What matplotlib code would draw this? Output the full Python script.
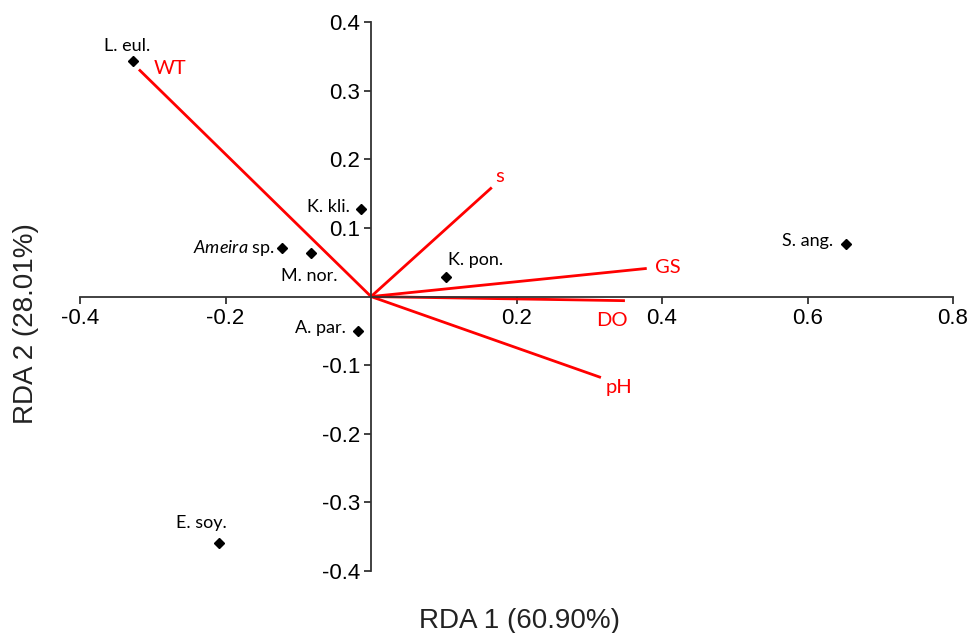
import matplotlib.pyplot as plt

plt.rcParams["mathtext.fontset"] = "custom"
plt.rcParams["mathtext.it"] = "Lato:italic"
plt.rcParams["mathtext.rm"] = "Lato"

# species scores (RDA1, RDA2)
species = ["L. eul.", "K. kli.", "Ameira sp.", "M. nor.", "K. pon.", "S. ang.", "A. par.", "E. soy."]
sp_x = [-0.327, -0.014, -0.123, -0.083, 0.103, 0.653, -0.018, -0.209]
sp_y = [0.343, 0.127, 0.071, 0.064, 0.029, 0.077, -0.050, -0.359]

# environmental vectors
env = ["WT", "s", "GS", "DO", "pH"]
env_x = [-0.319, 0.166, 0.379, 0.349, 0.316]
env_y = [0.331, 0.159, 0.041, -0.006, -0.118]

xticks = [-0.4, -0.2, 0.2, 0.4, 0.6, 0.8]
yticks = [-0.4, -0.3, -0.2, -0.1, 0.1, 0.2, 0.3, 0.4]

# label offsets in points and alignment
sp_off = {"L. eul.": (-4, 11, "center"), "K. kli.": (-8, 2, "right"),
          "Ameira sp.": (-5, 0, "right"), "M. nor.": (-1, -17, "center"),
          "K. pon.": (21, 12, "center"), "S. ang.": (-9, 2, "right"),
          "A. par.": (-9, 2, "right"), "E. soy.": (-13, 14, "center")}
env_off = {"WT": (22, 1, "center"), "s": (6, 8, "center"), "GS": (6, 1, "left"),
           "DO": (-9, -14, "center"), "pH": (13, -7, "center")}

fig = plt.figure(figsize=(9.7, 6.33), dpi=100)
ax = fig.add_axes([0.0825, 0.098, 0.9, 0.867])

ax.spines["left"].set_position("zero")
ax.spines["bottom"].set_position("zero")
ax.spines["right"].set_visible(False)
ax.spines["top"].set_visible(False)
for s in ["left", "bottom"]:
    ax.spines[s].set_linewidth(1.3)
    ax.spines[s].set_color("#333333")

ax.set_xlim(-0.4, 0.8)
ax.set_ylim(-0.4, 0.4)
ax.set_xticks(xticks)
ax.set_yticks(yticks)
ax.set_xticklabels([f"{v:.1f}" for v in xticks])
ax.set_yticklabels([f"{v:.1f}" for v in yticks])
ax.tick_params(direction="out", length=5, width=1.3, color="#333333",
               labelsize=16, pad=3)
for lab in ax.get_xticklabels() + ax.get_yticklabels():
    lab.set_family("Liberation Sans")

for name, x, y in zip(env, env_x, env_y):
    ax.plot([0, x], [0, y], color="red", lw=2.0, solid_capstyle="butt")
    dx, dy, ha = env_off[name]
    ax.annotate(name, (x, y), xytext=(dx, dy), textcoords="offset points",
                ha=ha, va="center", color="red", fontsize=14.5, family="Lato")

ax.plot(sp_x, sp_y, "D", color="black", ms=5.5, linestyle="none")
for name, x, y in zip(species, sp_x, sp_y):
    dx, dy, ha = sp_off[name]
    if name == "Ameira sp.":
        name = r"$\mathit{Ameira}$ sp."
    ax.annotate(name, (x, y), xytext=(dx, dy), textcoords="offset points",
                ha=ha, va="center", color="black", fontsize=13, family="Lato")

fig.text(0.536, 0.019, "RDA 1 (60.90%)", ha="center", va="center",
         fontsize=20, family="Liberation Sans", color="#222222")
fig.text(0.027, 0.489, "RDA 2 (28.01%)", ha="center", va="center", rotation=90,
         fontsize=20, family="Liberation Sans", color="#222222")

fig.savefig("out.png", dpi=100)
